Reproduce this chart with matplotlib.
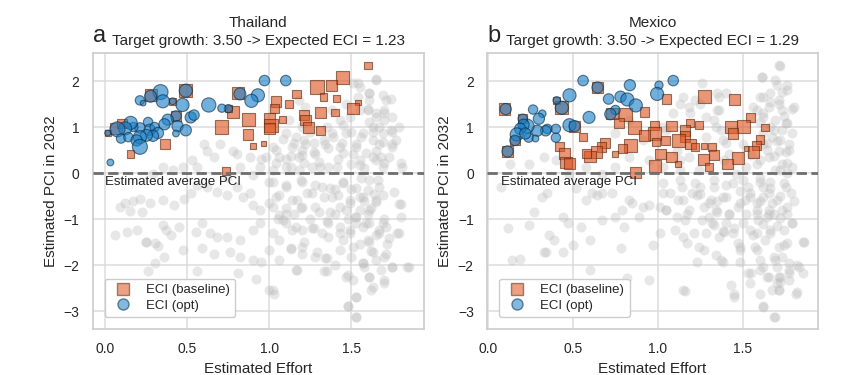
import numpy as np
import matplotlib
matplotlib.use("Agg")
import matplotlib.pyplot as plt
import seaborn as sns
from matplotlib.lines import Line2D

sns.set_style("whitegrid")
plt.rcParams['font.family'] = ['Liberation Sans', 'DejaVu Sans']

# ---------------- data ----------------
countries = ['Thailand', 'Mexico']
panel_letters = ['a', 'b']
target_growth = [3.50, 3.50]
expected_eci = [1.23, 1.29]

# Thailand: background products (grey)
tha_bg_x = [0.74, 0.66, 0.56, 0.62, 0.80, 0.82, 0.88, 0.98, 1.02, 1.06, 1.14, 1.18, 1.22, 1.28, 1.34, 1.38,
            1.43, 1.47, 1.53, 1.57, 1.63, 1.65, 1.69, 1.75, 1.63, 1.55, 1.51, 1.61, 1.65, 1.61, 1.55, 1.51,
            1.71, 1.75, 1.79, 1.73, 1.81, 1.69, 1.65, 1.36, 1.26, 1.18, 1.10, 1.02, 0.94, 0.78, 0.70, 0.60,
            0.53, 0.47, 0.41, 0.35, 0.29, 1.20, 1.16, 1.10, 1.12, 1.18, 1.22, 1.49, 1.55, 1.43, 1.38, 1.63,
            1.67, 1.77,
            0.09, 0.12, 0.17, 0.21, 0.15, 0.22, 0.27, 0.35, 0.42, 0.48, 0.52, 0.56, 0.62, 0.68, 0.74, 0.80,
            0.84, 0.88, 0.90, 0.94, 1.00, 1.06, 1.10, 1.14, 1.20, 1.26, 1.32, 1.38, 1.43, 1.49, 1.55, 1.60,
            1.65, 1.69, 1.79, 0.06, 0.13, 0.19, 0.25, 0.32, 0.35, 0.37, 0.40, 0.45, 0.55, 0.59, 0.64, 0.68,
            0.74, 0.82, 0.90, 0.94, 1.02, 1.06, 1.10, 1.14, 1.20, 1.26, 1.32, 1.36, 1.43, 1.49, 1.53, 1.57,
            1.61, 1.67, 1.71, 1.78, 0.25, 0.30, 0.36, 0.47, 0.59, 0.66, 0.76, 0.82, 0.90, 0.95, 1.00, 1.06,
            1.13, 1.20, 1.28, 1.34, 1.43, 1.50, 1.57, 1.65, 1.71, 1.84, 0.26, 0.30, 0.56, 0.81, 0.92, 1.00,
            1.03, 1.16, 1.33, 1.47, 1.51, 1.61, 1.70, 1.63, 1.53, 1.48, 1.53, 1.75, 1.40,
            1.45, 1.50, 1.55, 1.60, 1.62, 1.58, 1.52, 1.48, 1.65, 1.60, 1.70, 1.66, 1.56, 1.40, 1.30, 1.25,
            1.15, 1.10, 1.05, 1.35, 1.45, 1.55, 1.72, 1.68, 1.62, 1.58, 1.64, 1.50, 1.42, 1.30, 1.20, 1.25,
            1.35, 1.45, 1.60, 1.70, 1.75, 1.68, 1.58, 1.40, 1.20, 1.00, 0.90, 0.95, 1.10,
            1.54, 1.65, 1.61, 1.69, 1.74, 1.54, 1.47, 1.60, 1.65, 1.70, 1.61, 1.67, 1.74, 1.70, 1.63, 1.56,
            1.50, 1.44, 1.39, 1.33, 1.27, 1.21, 1.15, 1.08, 1.04, 1.13, 1.20, 1.27, 1.36, 1.45, 1.53, 1.59,
            1.65, 1.70, 1.80, 1.75, 1.69, 1.04, 1.13, 1.21, 1.31, 1.41, 1.55,
            1.02, 1.10, 1.19, 1.28, 1.37, 1.45, 1.53, 1.61, 1.67, 1.76, 1.04, 1.17, 1.23, 1.33, 1.42, 1.49,
            1.57, 1.65, 1.02, 1.10, 1.19, 1.28, 1.37, 1.47, 1.53, 1.61, 1.80, 1.08, 1.16, 1.27, 1.36, 1.43,
            1.49, 1.59, 1.69, 1.80, 1.06, 1.21, 1.29, 1.35, 1.51, 1.61, 1.67, 1.73, 1.79, 1.63, 1.70, 1.20,
            1.13, 1.17, 1.35, 1.48, 1.57, 1.61, 1.70, 1.75, 1.85, 1.62, 1.53, 1.48, 1.53, 1.02]
tha_bg_y = [-0.09, 0.35, 0.13, 0.49, 0.42, 0.13, 0.35, 0.35, 0.57, 0.35, 0.57, 0.35, 0.64, 0.42, 0.64, 0.86,
            0.57, 0.86, 0.64, 0.86, 1.00, 1.22, 0.86, 0.64, 0.35, 0.28, 0.42, 1.59, 2.02, 1.73, 1.88, 1.95,
            1.59, 1.22, 1.00, 0.35, 0.13, 0.13, 0.49, 0.13, 0.13, 0.06, 0.13, 0.06, 0.13, 0.49, 0.64, 0.64,
            0.28, 0.13, 0.06, 0.13, -0.01, 1.00, 0.79, 0.86, 1.15, 1.59, 1.44, 1.22, 1.37, 1.15, 1.37, 0.71,
            0.64, 0.71,
            -0.73, -0.66, -0.60, -0.57, -0.82, -0.84, -0.66, -0.59, -0.70, -0.57, -0.44, -0.26, -0.30, -0.41,
            -0.48, -0.30, -0.51, -0.44, -0.70, -0.80, -0.66, -0.48, -0.26, -0.59, -0.73, -0.44, -0.30, -0.51,
            -0.73, -0.66, -0.51, -0.37, -0.59, -0.48, -0.67, -1.35, -1.28, -1.24, -1.49, -1.59, -1.13, -1.24,
            -1.35, -1.17, -1.28, -1.08, -1.31, -1.38, -1.38, -1.46, -1.24, -1.09, -1.31, -0.91, -1.09, -1.24,
            -1.24, -1.20, -1.31, -1.38, -1.31, -1.24, -1.09, -1.17, -1.09, -1.24, -1.17, -1.31, -1.50, -1.53,
            -1.82, -1.67, -1.64, -1.75, -1.71, -1.82, -1.89, -1.93, -1.67, -1.89, -1.66, -1.60, -1.82, -1.85,
            -1.67, -1.82, -1.96, -1.89, -1.75, -2.05, -2.12, -1.96, -2.12, -2.18, -2.31, -2.54, -2.63, -2.11,
            -2.14, -2.25, -2.33, -2.25, -2.33, -2.47, -2.69, -2.89, -3.12, -2.04, -2.00,
            -0.20, -0.35, -0.80, -0.90, -0.75, -0.60, -0.95, -1.00, -1.35, -1.45, -1.00, -0.15, -0.10, -0.90,
            -0.85, -1.00, -0.90, -0.75, -1.00, -1.05, -1.45, -1.55, -1.55, -2.10, -1.70, -2.05, -0.45, 0.20,
            0.30, 0.25, 0.50, 0.90, 1.00, 1.05, 1.40, 1.30, 0.90, 0.35, 0.10, -0.35, -0.20, -0.20, -0.05,
            0.30, 0.30,
            1.95, 2.04, 1.75, 1.70, 1.62, 1.66, 1.51, 1.37, 1.30, 1.37, 1.12, 1.01, 0.94, 1.15, 0.90, 0.79,
            0.90, 0.65, 0.79, 0.72, 0.65, 0.72, 0.65, 0.75, 0.50, 0.36, 0.39, 0.46, 0.54, 0.43, 0.57, 0.43,
            0.28, 0.21, 0.21, 0.57, 0.68, 0.21, 0.14, 0.21, 0.14, 0.14, 0.17,
            -0.19, -0.30, -0.15, -0.26, -0.33, -0.22, -0.33, -0.15, -0.30, -0.41, -0.51, -0.59, -0.44, -0.51,
            -0.48, -0.59, -0.51, -0.62, -0.73, -0.88, -0.77, -0.73, -0.84, -0.80, -0.95, -0.80, -0.67, -1.02,
            -1.17, -1.20, -1.09, -1.17, -1.31, -1.09, -1.09, -0.95, -1.46, -1.49, -1.71, -1.85, -1.60, -1.49,
            -1.31, -1.42, -1.31, -1.71, -1.82, -1.75, -1.64, -2.11, -2.14, -2.22, -1.96, -2.25, -2.38, -2.04,
            -2.05, -2.54, -2.69, -2.89, -3.12, -2.54]

# Thailand: baseline ECI products (orange squares), w = marker weight
tha_base_x = [1.60, 1.445, 1.38, 1.29, 1.33, 1.41, 1.166, 1.54, 1.51, 1.40, 1.31, 1.12, 1.04, 1.03, 1.21,
              1.22, 1.24, 1.31, 1.08, 1.00, 1.01, 1.00, 0.87, 0.87, 0.966, 0.90, 0.71, 0.78, 0.81, 0.737,
              0.364, 0.154, 0.488, 0.28, 0.41, 0.43, 0.065, 0.018, 0.75, 0.10]
tha_base_y = [2.34, 2.08, 1.91, 1.87, 1.65, 1.62, 1.72, 1.53, 1.40, 1.32, 1.31, 1.50, 1.55, 1.40, 1.26,
              1.15, 0.99, 0.93, 1.16, 1.19, 1.04, 0.97, 1.17, 0.84, 0.65, 0.59, 1.00, 1.33, 1.73, 0.04,
              0.63, 0.41, 1.79, 1.69, 1.56, 1.24, 0.97, 0.87, 1.40, 1.08]
tha_base_w = [20, 35, 30, 35, 20, 20, 22, 15, 30, 20, 30, 22, 28, 25, 25,
              28, 30, 25, 20, 30, 35, 30, 35, 28, 14, 14, 35, 32, 32, 22,
              25, 20, 35, 32, 18, 28, 30, 16, 20, 25]

# Thailand: optimised ECI products (blue circles)
tha_opt_x = [0.97, 1.10, 0.93, 0.89, 0.82, 0.75, 0.71, 0.63, 0.52, 0.54, 0.49, 0.47, 0.336, 0.275, 0.35,
             0.21, 0.23, 0.41, 0.43, 0.38, 0.36, 0.44, 0.43, 0.49, 0.26, 0.27, 0.21, 0.30, 0.32, 0.29,
             0.25, 0.21, 0.17, 0.154, 0.12, 0.073, 0.095, 0.14, 0.19, 0.21, 0.03, 0.014]
tha_opt_y = [2.01, 2.01, 1.69, 1.57, 1.72, 1.40, 1.41, 1.48, 1.21, 1.26, 1.79, 1.48, 1.76, 1.67, 1.56,
             1.58, 1.52, 1.56, 1.24, 1.16, 1.06, 1.02, 0.86, 0.93, 1.11, 0.94, 0.98, 1.00, 0.87, 0.81,
             0.82, 0.78, 1.00, 1.09, 0.97, 0.95, 0.75, 0.78, 0.71, 0.57, 0.23, 0.87]
tha_opt_w = [28, 28, 35, 35, 32, 22, 22, 38, 30, 28, 35, 35, 40, 32, 35,
             25, 15, 18, 28, 30, 30, 30, 18, 30, 25, 30, 28, 25, 30, 30,
             32, 35, 25, 35, 35, 40, 25, 25, 30, 40, 18, 16]

# Mexico: background products (grey)
mex_bg_x = [0.08, 0.12, 0.14, 0.19, 0.24, 0.27, 0.32, 0.35, 0.36, 0.39, 0.34, 0.33, 0.44, 0.44, 0.47, 0.50,
            0.52, 0.55, 0.58, 0.60, 0.61, 0.64, 0.67, 0.67, 0.73, 0.75, 0.78, 0.79, 0.80, 0.83, 0.85, 0.89,
            0.91, 0.95, 0.97, 1.01, 1.01, 1.03, 1.05, 1.11, 1.12, 1.14, 1.15, 1.16, 1.18, 1.20, 1.22, 1.24,
            1.26, 1.28, 1.30, 1.32, 1.33, 1.34, 1.36, 1.37, 1.38, 1.40, 1.42, 1.44, 1.45, 1.47, 1.48, 1.50,
            1.51, 1.52, 1.53, 1.54, 1.55, 1.57, 1.58, 1.59, 1.60, 1.62, 1.63, 1.64, 1.65, 1.65, 1.66, 1.68,
            1.69, 1.70, 1.71, 1.72, 1.73, 1.74, 1.76, 1.77, 1.79, 1.81, 1.83, 1.85, 1.73, 1.67, 1.62, 1.54,
            1.75, 0.95, 0.82, 0.60, 1.15, 1.43, 1.77, 1.62, 1.54, 1.71, 1.67, 1.71, 1.65, 1.77,
            1.71, 1.61, 1.69, 1.76, 1.73, 1.71, 1.62, 1.65, 1.58, 1.73, 1.79, 1.62, 1.69, 1.76, 1.73, 1.67,
            1.62, 1.71, 1.77, 1.65, 1.58, 1.73, 1.69, 1.79, 1.50, 1.42, 1.38, 1.34, 1.36, 1.28, 1.22, 1.15,
            1.18, 1.26, 1.36, 1.28, 1.18, 1.11, 1.03, 0.95, 0.83, 0.75, 0.67, 0.58, 0.48, 0.40, 0.33, 0.24,
            0.13, 1.03, 0.91, 0.75, 0.83, 1.13, 1.24, 1.46, 1.52, 1.62, 1.79, 1.75,
            1.60, 1.66, 1.72, 1.58, 1.62, 1.68, 1.70, 1.56, 1.60, 1.64, 1.70, 1.66, 1.60, 1.74, 1.66, 1.55,
            1.48, 1.45, 1.38, 1.30, 1.35, 1.25, 1.76, 1.80, 1.76,
            1.72, 1.61, 1.70, 1.76, 1.60, 1.66, 1.80, 1.71, 1.56, 1.62, 1.75, 1.68, 1.72, 1.64, 1.77, 1.68,
            1.60, 1.76, 1.72, 1.40, 1.37, 1.35, 1.40, 1.35, 1.25, 1.19, 1.13, 1.09, 1.05, 1.33, 1.39, 1.13,
            1.03, 1.13, 1.25, 1.33, 1.40, 1.50, 1.60, 1.66, 1.74, 1.78, 1.07, 1.15, 1.23, 1.31, 1.40, 1.48,
            1.54, 1.62, 1.70, 1.76, 1.05, 1.17, 1.27, 1.35, 1.42, 1.47, 1.58, 1.65, 1.72, 1.79, 1.10, 1.21,
            1.33, 1.39, 1.44, 1.58, 1.66, 1.74, 1.86, 1.17, 1.27, 1.34, 1.48, 1.58, 1.68, 1.23, 1.38, 1.48,
            1.60, 1.70, 1.82, 1.53, 1.64, 1.72, 1.77, 1.85, 1.16, 1.45, 1.60, 1.71, 1.82, 1.62, 1.69]
mex_bg_y = [-0.30, -1.20, -1.89, -1.86, -1.13, -0.84, -0.51, -0.44, -1.35, -1.46, -1.71, -1.71, -1.71,
            -0.95, -1.09, -1.56, -0.33, -1.17, -0.59, -1.46, -0.44, -0.48, -0.44, -1.02, -0.44, -0.95,
            -1.64, -0.80, -1.17, -0.59, -0.66, -0.95, -0.73, -0.70, -1.56, -0.73, -1.31, -0.44, -0.80,
            -0.95, -0.59, -0.30, -1.38, -1.02, -0.80, -0.44, -0.22, -1.60, -1.02, -1.31, -0.66, -1.09,
            -0.30, -0.80, -1.38, -1.89, -0.51, -1.09, -0.88, -0.22, -2.62, -1.53, -1.60, -1.09, -0.59,
            -0.88, -0.30, -1.24, -2.18, -1.60, -0.66, -1.02, -1.89, -2.91, -1.46, -0.95, -0.80, -0.44,
            -1.31, -3.12, -1.89, -2.40, -1.60, -2.25, -1.82, -1.24, -1.53, -1.96, -1.09, -2.62, -2.04,
            -1.49, -0.80, -0.66, -0.30, -0.51, -0.30, -2.33, -2.29, -2.11, -2.54, -2.44, -2.11, -2.04,
            -2.40, -2.54, -2.54, -2.25, -2.25, -2.33,
            2.34, 2.08, 2.02, 1.91, 1.77, 1.59, 1.66, 1.44, 1.37, 1.37, 1.40, 1.22, 1.15, 1.08, 0.93, 0.79,
            0.64, 0.49, 0.64, 0.35, 0.20, 0.20, 0.06, 0.13, 0.64, 0.42, 0.71, 1.00, 1.37, 1.22, 1.59, 1.66,
            1.44, 1.95, 1.66, 0.79, 0.35, 0.49, 0.13, 0.28, 0.35, 0.13, -0.01, 0.13, -0.01, 0.28, 0.35, 0.20,
            0.20, 1.00, 0.71, 0.86, 1.15, 0.06, 0.06, -0.01, 0.13, 0.86, 0.86, 0.46,
            -0.10, -0.20, -0.50, -0.90, -1.10, -0.90, -1.15, -1.35, -0.60, 0.50, 0.70, 1.00, 1.10, 1.25,
            1.55, 0.40, -0.40, -1.20, -1.25, -0.95, -0.60, -0.45, 0.00, -0.60, -0.90,
            2.33, 2.09, 1.91, 1.80, 1.66, 1.73, 1.44, 1.51, 1.44, 1.30, 1.08, 0.94, 0.72, 0.65, 0.50, 0.36,
            0.28, 0.21, 0.06, 0.65, 0.94, 1.37, 1.73, 1.73, 1.51, 1.30, 1.51, 1.30, 0.94, 1.15, 0.28, 0.28,
            -0.22, -0.15, -0.30, -0.15, -0.26, -0.15, -0.19, -0.33, -0.22, -0.44, -0.44, -0.59, -0.48, -0.59,
            -0.51, -0.66, -0.44, -0.51, -0.59, -0.73, -0.80, -0.88, -0.73, -0.84, -0.88, -0.73, -0.80, -0.88,
            -0.98, -1.09, -1.24, -1.31, -1.13, -1.28, -1.31, -1.31, -1.24, -1.56, -1.49, -1.53, -1.67, -1.78,
            -1.67, -1.67, -1.82, -1.93, -1.93, -1.93, -2.11, -2.04, -2.00, -2.18, -2.25, -2.36, -2.18, -2.18,
            -2.56, -2.69, -2.62, -2.54, -2.58, -2.89, -3.12]

# Mexico: baseline ECI products (orange squares)
mex_base_x = [1.276, 1.45, 1.05, 0.92, 0.81, 0.77, 0.86, 0.98, 0.98, 0.92, 0.99, 1.045, 1.08, 1.19, 1.24,
              1.16, 1.16, 1.12, 1.19, 1.22, 1.27, 1.32, 1.33, 1.27, 1.30, 1.545, 1.505, 1.63, 1.43, 1.44,
              1.60, 1.58, 1.52, 1.56, 1.47, 1.41, 1.08, 1.12, 1.015, 0.98, 0.87, 0.84, 0.79, 0.69, 0.67,
              0.64, 0.60, 0.58, 0.75, 0.56, 0.42, 0.45, 0.46, 0.48, 0.10, 0.116, 0.405, 0.435, 0.645, 0.73,
              0.51, 0.16, 0.205]
mex_base_y = [1.66, 1.60, 1.61, 1.33, 1.27, 1.09, 0.99, 1.03, 0.86, 0.82, 0.68, 0.71, 1.02, 1.09, 1.04,
              0.92, 0.79, 0.70, 0.63, 0.57, 0.59, 0.57, 0.39, 0.29, 0.13, 1.21, 1.02, 0.99, 1.00, 0.86,
              0.73, 0.60, 0.54, 0.46, 0.33, 0.20, 0.35, 0.20, 0.41, 0.15, 0.02, 0.60, 0.53, 0.65, 0.57,
              0.46, 0.36, 0.42, 0.42, 0.78, 0.58, 0.42, 0.23, 0.20, 1.39, 0.47, 1.58, 1.42, 1.86, 1.29,
              1.02, 0.71, 1.18]
mex_base_w = [35, 28, 25, 25, 35, 25, 35, 25, 35, 28, 22, 25, 28, 22, 22,
              28, 28, 35, 28, 22, 16, 22, 28, 30, 22, 25, 35, 20, 30, 28,
              22, 22, 14, 30, 32, 28, 28, 16, 28, 32, 30, 35, 25, 28, 25,
              30, 30, 25, 16, 20, 25, 30, 30, 30, 30, 30, 20, 35, 30, 30,
              30, 25, 25]

# Mexico: optimised ECI products (blue circles)
mex_opt_x = [0.56, 1.09, 1.006, 0.835, 0.995, 0.78, 0.82, 0.87, 0.71, 0.75, 0.72, 0.645, 0.595, 0.48, 0.48,
             0.51, 0.435, 0.405, 0.266, 0.32, 0.30, 0.40, 0.40, 0.35, 0.34, 0.29, 0.23, 0.205, 0.21, 0.19,
             0.17, 0.24, 0.22, 0.16, 0.116, 0.105, 0.28]
mex_opt_y = [2.01, 2.01, 1.91, 1.91, 1.72, 1.66, 1.60, 1.47, 1.61, 1.37, 1.28, 1.86, 1.21, 1.69, 1.04,
             1.02, 1.42, 1.58, 1.38, 1.29, 1.18, 0.96, 0.77, 0.96, 0.92, 0.92, 1.02, 1.18, 1.05, 0.96,
             0.84, 0.77, 0.86, 0.71, 0.47, 1.39, 0.75]
mex_opt_w = [28, 28, 22, 30, 35, 30, 35, 35, 28, 25, 30, 30, 32, 35, 35,
             30, 35, 20, 25, 20, 30, 25, 25, 25, 28, 30, 38, 25, 30, 30,
             35, 25, 30, 28, 30, 30, 18]

panels = [
    (tha_bg_x, tha_bg_y, tha_base_x, tha_base_y, tha_base_w, tha_opt_x, tha_opt_y, tha_opt_w),
    (mex_bg_x, mex_bg_y, mex_base_x, mex_base_y, mex_base_w, mex_opt_x, mex_opt_y, mex_opt_w),
]

orange = '#DD5522'
blue = '#1A80C8'


def wsize(w):
    # marker weight -> scatter area (points^2)
    return (0.27 * np.asarray(w)) ** 2


fig = plt.figure(figsize=(8.44, 3.75), dpi=100)
rects = [[0.1098, 0.1227, 0.392, 0.736], [0.577, 0.1227, 0.392, 0.736]]
xlims = [(-0.078, 1.94), (-0.005, 1.94)]
txt_x = [0.0, 0.08]

for i, p in enumerate(panels):
    bgx, bgy, bx, by, bw, ox, oy, ow = p
    ax = fig.add_axes(rects[i])
    ax.scatter(bgx, bgy, s=52, color='#b8b8b8', alpha=0.33, linewidths=0, zorder=2)
    ax.scatter(bx, by, s=wsize(bw), marker='s', color=orange, alpha=0.62,
               edgecolors='#5a2a10', linewidths=0.8, zorder=3)
    ax.scatter(ox, oy, s=wsize(ow), marker='o', color=blue, alpha=0.62,
               edgecolors='#0a2a40', linewidths=0.8, zorder=4)
    ax.axhline(0, color='#6e6e6e', linestyle='--', linewidth=2, zorder=5)
    ax.text(txt_x[i], -0.07, 'Estimated average PCI', fontsize=9.5, color='#222222',
            ha='left', va='top', zorder=6)

    ax.set_xlim(*xlims[i])
    ax.set_ylim(-3.39, 2.61)
    ax.set_xticks([0.0, 0.5, 1.0, 1.5])
    ax.set_yticks([-3, -2, -1, 0, 1, 2])
    ax.set_yticklabels(['\u22123', '\u22122', '\u22121', '0', '1', '2'])
    ax.tick_params(labelsize=10, colors='#262626', pad=6)
    ax.grid(True, color='#dcdcdc', linewidth=1.1)
    for sp in ax.spines.values():
        sp.set_color('#cccccc')
        sp.set_linewidth(1.2)
    ax.set_xlabel('Estimated Effort', fontsize=11, color='#262626')
    ax.set_ylabel('Estimated PCI in 2032', fontsize=11, color='#262626')
    ax.set_title('%s\nTarget growth: %.2f -> Expected ECI = %.2f'
                 % (countries[i], target_growth[i], expected_eci[i]),
                 fontsize=11, pad=6, linespacing=1.3)
    ax.text(0.0, 1.04, panel_letters[i], transform=ax.transAxes, fontsize=17,
            ha='left', va='baseline')

    handles = [
        Line2D([], [], marker='s', linestyle='none', markersize=8, markerfacecolor=orange,
               alpha=0.55, markeredgecolor='#5a2a10'),
        Line2D([], [], marker='o', linestyle='none', markersize=8, markerfacecolor=blue,
               alpha=0.55, markeredgecolor='#0a2a40'),
    ]
    ax.legend(handles, ['ECI (baseline)', 'ECI (opt)'], loc='lower left', fontsize=9.5,
              frameon=True, edgecolor='#cccccc', framealpha=1, borderaxespad=0.9,
              handletextpad=0.75, borderpad=0.4, labelspacing=0.25)

fig.savefig('out.png', dpi=100)
